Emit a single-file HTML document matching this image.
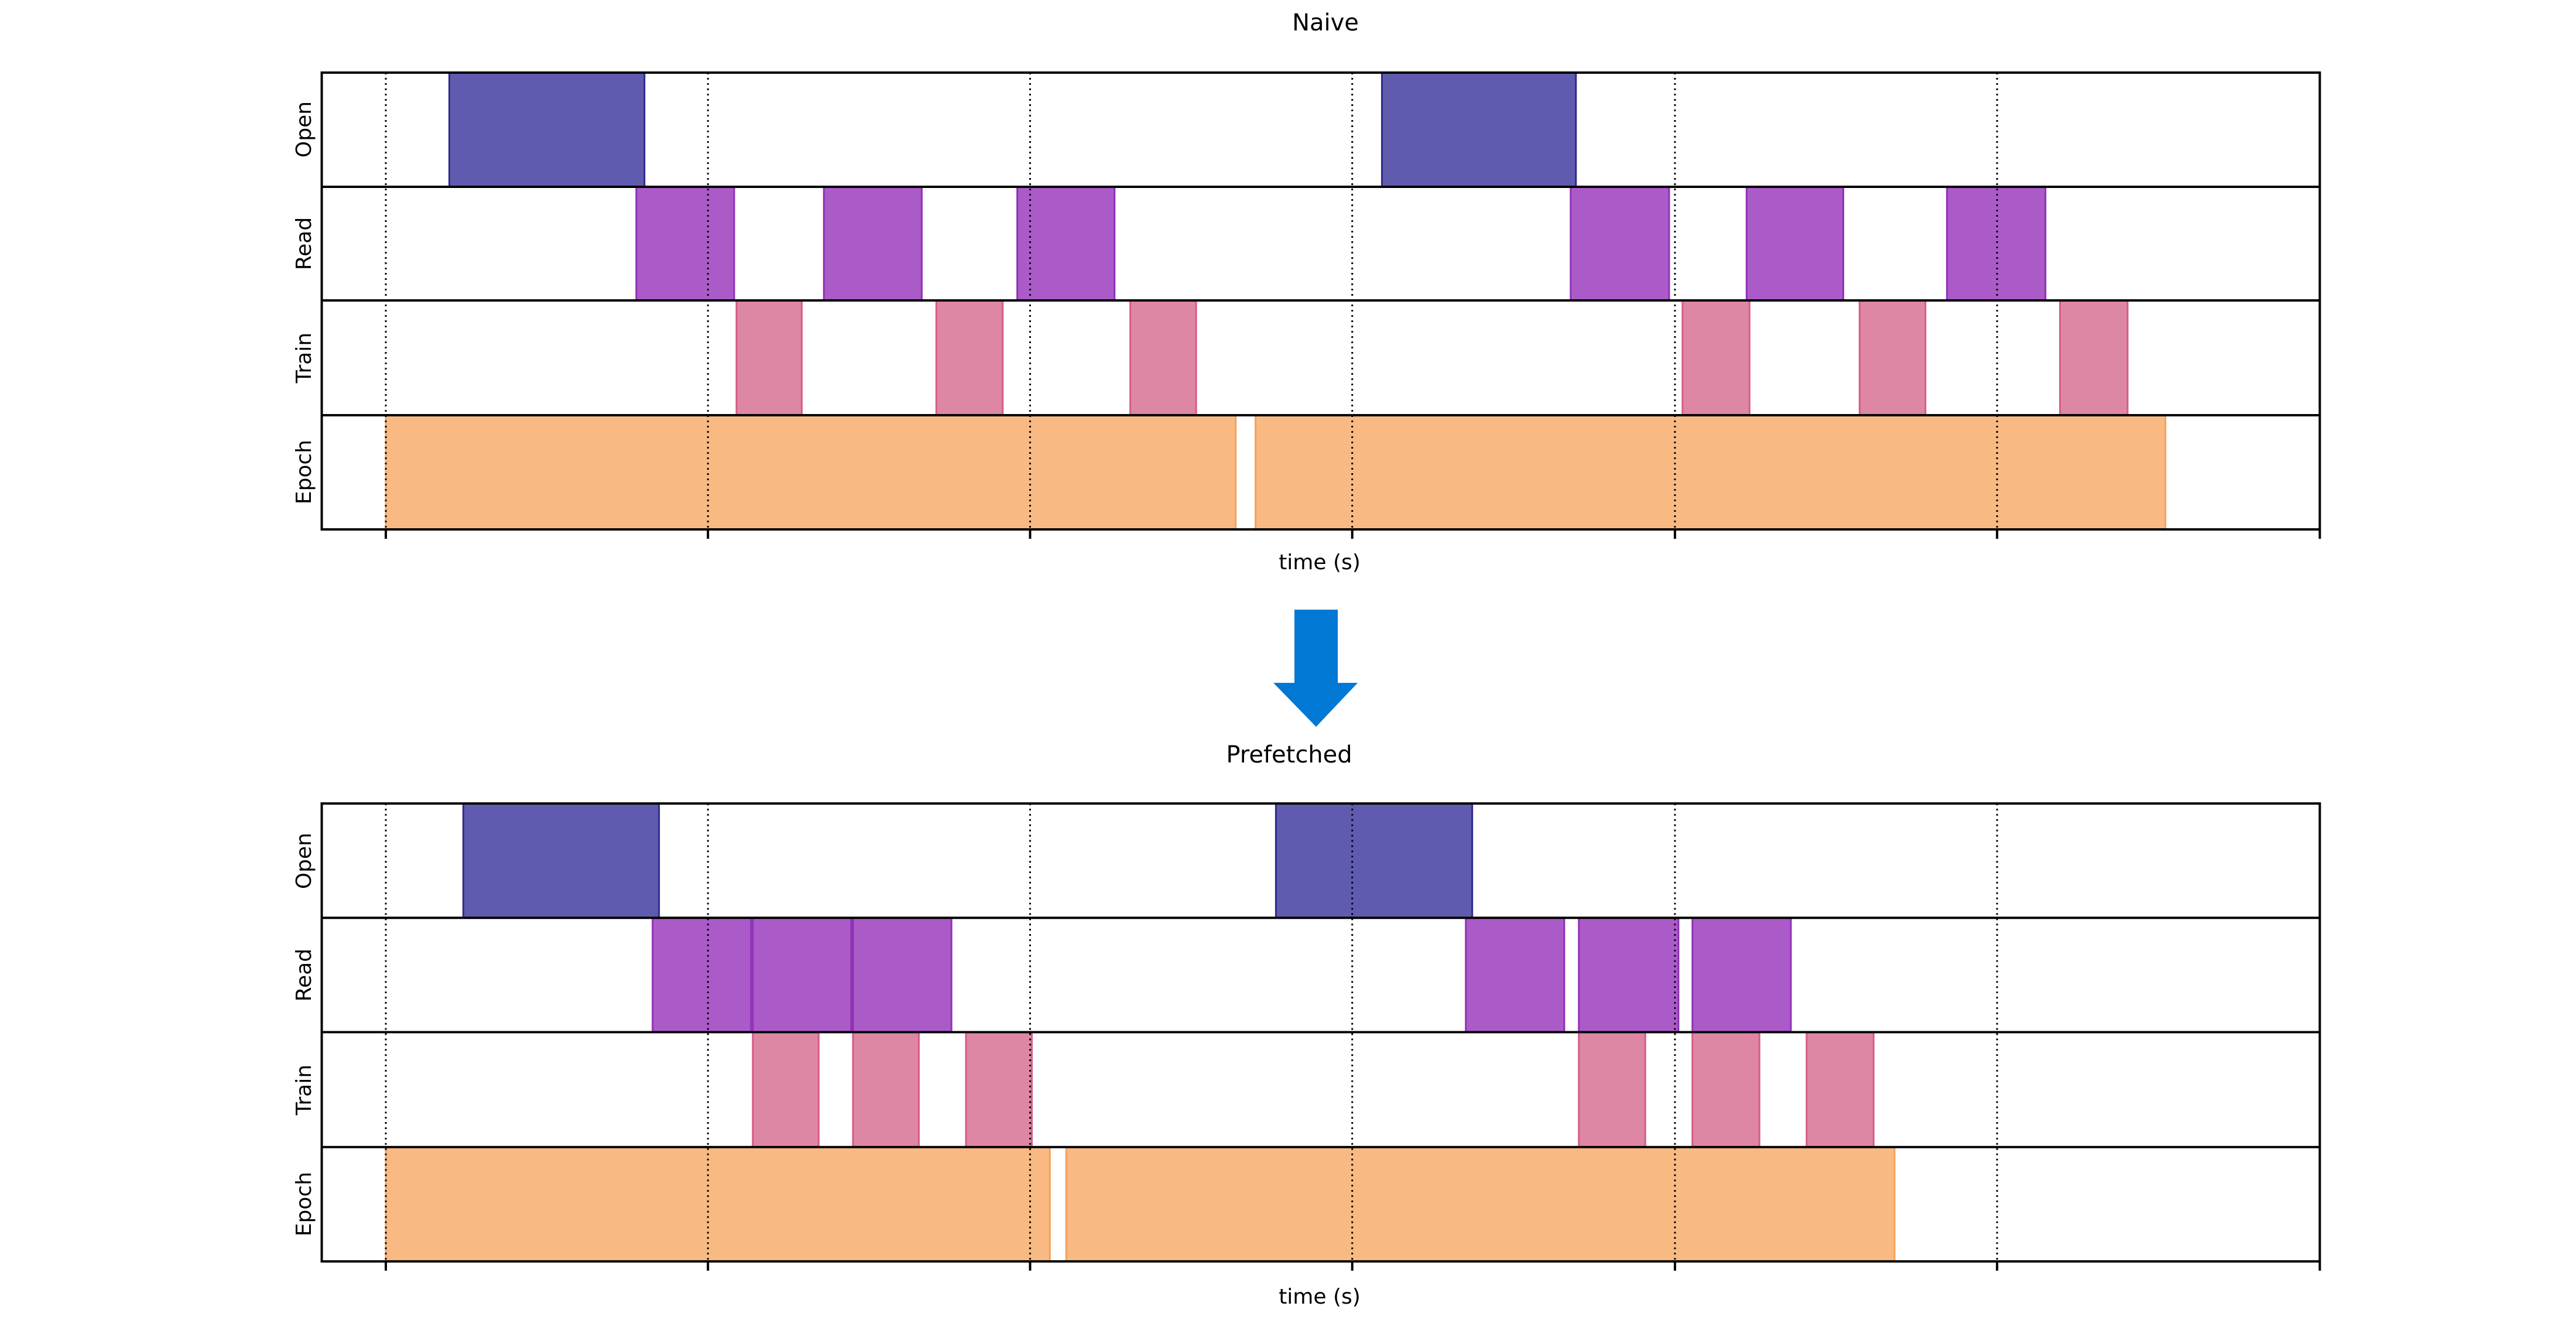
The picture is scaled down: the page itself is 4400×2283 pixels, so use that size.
<!DOCTYPE html>
<html><head><meta charset="utf-8"><style>
html,body{margin:0;padding:0;background:#fff;}
svg{display:block;}
text{font-family:"DejaVu Sans","Liberation Sans",sans-serif;fill:#000;}
</style></head><body>
<svg width="4400" height="2283" viewBox="0 0 4400 2283" xmlns="http://www.w3.org/2000/svg">
<defs>
<style>
.op{fill:#5f5caf;stroke:#2f2b8c;stroke-width:3}
.rd{fill:#ab5bc8;stroke:#9030b8;stroke-width:3}
.tr{fill:#de87a5;stroke:#d65a8b;stroke-width:3}
.ep{fill:#f8b983;stroke:#f5a35c;stroke-width:3}
.grid{stroke:#000;stroke-width:3;stroke-dasharray:3,6}
.ax{stroke:#000;stroke-width:4;fill:none}
.lab{font-size:36px}
</style>
</defs>

<text x="2264" y="52" font-size="40" text-anchor="middle">Naive</text>
<g transform="translate(659,0) scale(0.995,1) translate(-659,0)">
<rect class="op" x="768" y="124" width="335" height="195"/>
<rect class="op" x="2369" y="124" width="333" height="195"/>
<rect class="rd" x="1089" y="319" width="168" height="194"/>
<rect class="rd" x="1411" y="319" width="168" height="194"/>
<rect class="rd" x="1743" y="319" width="167" height="194"/>
<rect class="rd" x="2693" y="319" width="169" height="194"/>
<rect class="rd" x="2995" y="319" width="166" height="194"/>
<rect class="rd" x="3339" y="319" width="169" height="194"/>
<rect class="tr" x="1261" y="513" width="112" height="196"/>
<rect class="tr" x="1604" y="513" width="114" height="196"/>
<rect class="tr" x="1937" y="513" width="113" height="196"/>
<rect class="tr" x="2885" y="513" width="115" height="196"/>
<rect class="tr" x="3189" y="513" width="113" height="196"/>
<rect class="tr" x="3533" y="513" width="116" height="196"/>
<rect class="ep" x="659" y="709" width="1459" height="195"/>
<rect class="ep" x="2152" y="709" width="1562" height="195"/>
<g class="grid">
<line x1="659" y1="124" x2="659" y2="904"/>
<line x1="1212" y1="124" x2="1212" y2="904"/>
<line x1="1765" y1="124" x2="1765" y2="904"/>
<line x1="2318" y1="124" x2="2318" y2="904"/>
<line x1="2872" y1="124" x2="2872" y2="904"/>
<line x1="3425" y1="124" x2="3425" y2="904"/>
</g>
<rect class="ax" x="549" y="124" width="3430" height="780"/>
<g stroke="#000" stroke-width="4">
<line x1="549" y1="319" x2="3979" y2="319"/>
<line x1="549" y1="513" x2="3979" y2="513"/>
<line x1="549" y1="709" x2="3979" y2="709"/>
<line x1="659" y1="904" x2="659" y2="920"/>
<line x1="1212" y1="904" x2="1212" y2="920"/>
<line x1="1765" y1="904" x2="1765" y2="920"/>
<line x1="2318" y1="904" x2="2318" y2="920"/>
<line x1="2872" y1="904" x2="2872" y2="920"/>
<line x1="3425" y1="904" x2="3425" y2="920"/>
<line x1="3979" y1="904" x2="3979" y2="920"/>
</g>
</g>
<text class="lab" transform="translate(531,221) rotate(-90)" text-anchor="middle">Open</text>
<text class="lab" transform="translate(531,416) rotate(-90)" text-anchor="middle">Read</text>
<text class="lab" transform="translate(531,611) rotate(-90)" text-anchor="middle">Train</text>
<text class="lab" transform="translate(531,806) rotate(-90)" text-anchor="middle">Epoch</text>
<text class="lab" x="2254" y="972" text-anchor="middle">time (s)</text>

<polygon fill="#0078d4" points="2211,1041 2285,1041 2285,1166 2319,1166 2248,1241 2175,1166 2211,1166"/>

<text x="2202" y="1302" font-size="40" text-anchor="middle">Prefetched</text>
<g transform="translate(659,1372) scale(0.995,0.991) translate(-659,-1377)">
<rect class="op" x="792" y="1377" width="336" height="197"/>
<rect class="op" x="2187" y="1377" width="337" height="197"/>
<rect class="rd" x="1117" y="1574" width="169" height="197"/>
<rect class="rd" x="1289" y="1574" width="169" height="197"/>
<rect class="rd" x="1461" y="1574" width="169" height="197"/>
<rect class="rd" x="2513" y="1574" width="169" height="197"/>
<rect class="rd" x="2707" y="1574" width="171" height="197"/>
<rect class="rd" x="2902" y="1574" width="169" height="197"/>
<rect class="tr" x="1289" y="1771" width="113" height="198"/>
<rect class="tr" x="1461" y="1771" width="113" height="198"/>
<rect class="tr" x="1655" y="1771" width="113" height="198"/>
<rect class="tr" x="2707" y="1771" width="114" height="198"/>
<rect class="tr" x="2902" y="1771" width="115" height="198"/>
<rect class="tr" x="3098" y="1771" width="115" height="198"/>
<rect class="ep" x="659" y="1969" width="1140" height="197"/>
<rect class="ep" x="1827" y="1969" width="1422" height="197"/>
<g class="grid">
<line x1="659" y1="1377" x2="659" y2="2166"/>
<line x1="1212" y1="1377" x2="1212" y2="2166"/>
<line x1="1765" y1="1377" x2="1765" y2="2166"/>
<line x1="2318" y1="1377" x2="2318" y2="2166"/>
<line x1="2872" y1="1377" x2="2872" y2="2166"/>
<line x1="3425" y1="1377" x2="3425" y2="2166"/>
</g>
<rect class="ax" x="549" y="1377" width="3430" height="789"/>
<g stroke="#000" stroke-width="4">
<line x1="549" y1="1574" x2="3979" y2="1574"/>
<line x1="549" y1="1771" x2="3979" y2="1771"/>
<line x1="549" y1="1969" x2="3979" y2="1969"/>
<line x1="659" y1="2166" x2="659" y2="2182"/>
<line x1="1212" y1="2166" x2="1212" y2="2182"/>
<line x1="1765" y1="2166" x2="1765" y2="2182"/>
<line x1="2318" y1="2166" x2="2318" y2="2182"/>
<line x1="2872" y1="2166" x2="2872" y2="2182"/>
<line x1="3425" y1="2166" x2="3425" y2="2182"/>
<line x1="3979" y1="2166" x2="3979" y2="2182"/>
</g>
</g>
<text class="lab" transform="translate(531,1470) rotate(-90)" text-anchor="middle">Open</text>
<text class="lab" transform="translate(531,1665) rotate(-90)" text-anchor="middle">Read</text>
<text class="lab" transform="translate(531,1861) rotate(-90)" text-anchor="middle">Train</text>
<text class="lab" transform="translate(531,2056) rotate(-90)" text-anchor="middle">Epoch</text>
<text class="lab" x="2254" y="2226" text-anchor="middle">time (s)</text>
</svg>
</body></html>
